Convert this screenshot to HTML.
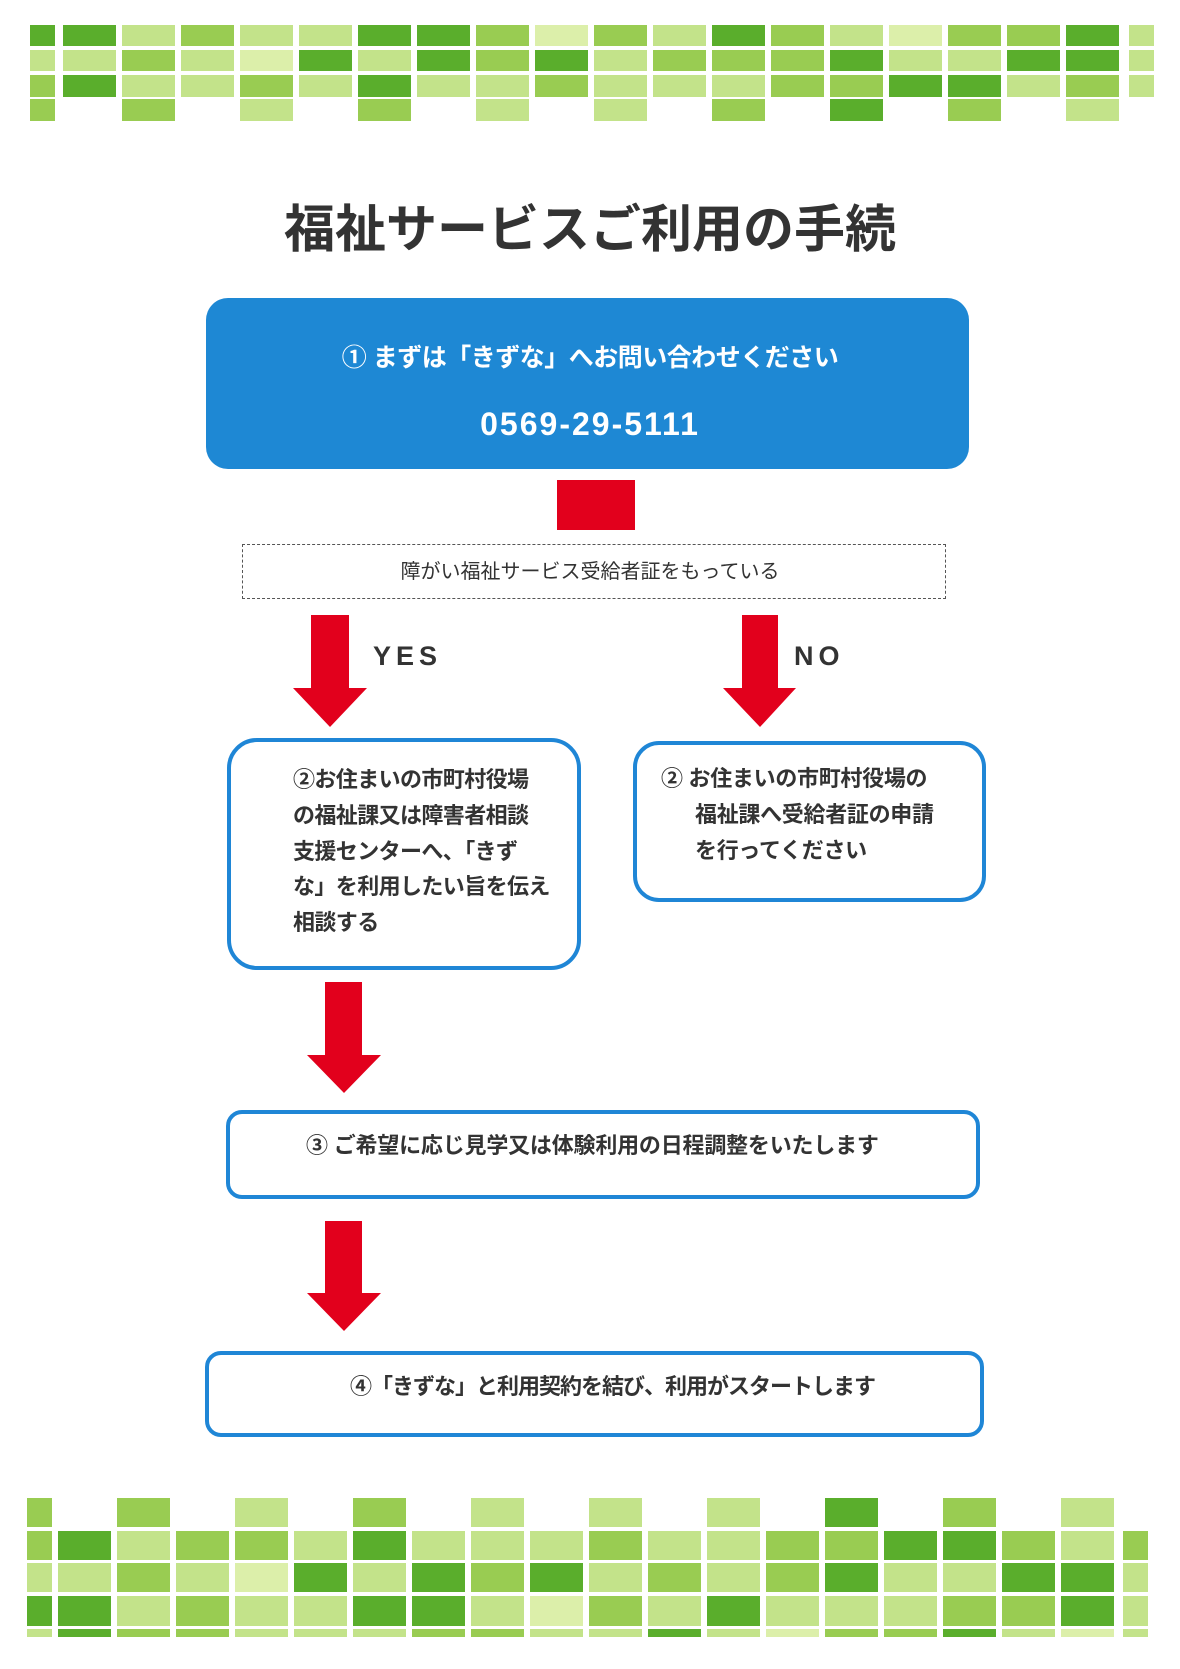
<!DOCTYPE html>
<html><head><meta charset="utf-8">
<style>
body{margin:0;width:1180px;height:1669px;background:#fff;position:relative;overflow:hidden;font-family:"Liberation Sans","Noto Sans CJK JP",sans-serif;}
.a{position:absolute;}
.t{position:absolute;white-space:nowrap;font-weight:bold;}
.box{position:absolute;border:4px solid #1f86d6;border-radius:26px;box-sizing:border-box;background:#fff;}
.tile{position:absolute;}
</style></head><body>
<div id="tiles"></div>

<div class="t" style="left:0;width:1180px;text-align:center;top:188px;font-size:51px;color:#333;">福祉サービスご利用の手続</div>

<div class="a" style="left:206px;top:298px;width:763px;height:171px;background:#1e88d4;border-radius:22px;"></div>
<div class="t" style="left:0;width:1180px;text-align:center;top:338px;font-size:25px;letter-spacing:-0.5px;color:#fff;">① まずは「きずな」へお問い合わせください</div>
<div class="t" style="left:0;width:1180px;text-align:center;top:406px;font-size:32px;color:#fff;letter-spacing:2px;">0569-29-5111</div>

<div class="a" style="left:557px;top:480px;width:78px;height:50px;background:#e2001c;"></div>

<div class="a" style="left:242px;top:544px;width:704px;height:55px;border:1.5px dashed #555;box-sizing:border-box;"></div>
<div class="a" style="left:0;width:1180px;text-align:center;top:555px;font-size:20px;color:#333;white-space:nowrap;">障がい福祉サービス受給者証をもっている</div>

<svg class="a" style="left:0;top:0" width="1180" height="1669">
<g fill="#e2001c">
<polygon points="311,615 349,615 349,688 367,688 330,727 293,688 311,688"/>
<polygon points="742,615 778,615 778,688 796,688 760,727 723,688 742,688"/>
<polygon points="325,982 362,982 362,1055 381,1055 344,1093 307,1055 325,1055"/>
<polygon points="325,1221 362,1221 362,1293 381,1293 344,1331 307,1293 325,1293"/>
</g></svg>
<div class="t" style="left:373px;top:641px;font-size:27px;color:#333;letter-spacing:5px;">YES</div>
<div class="t" style="left:794px;top:641px;font-size:27px;color:#333;letter-spacing:5px;">NO</div>

<div class="box" style="left:227px;top:738px;width:354px;height:232px;border-radius:30px;"></div>
<div class="t" style="left:293px;top:762px;font-size:22px;letter-spacing:-0.6px;line-height:35.8px;color:#333;">②お住まいの市町村役場<br>の福祉課又は障害者相談<br>支援センターへ、「きず<br>な」を利用したい旨を伝え<br>相談する</div>

<div class="box" style="left:633px;top:741px;width:353px;height:161px;border-radius:26px;"></div>
<div class="t" style="left:661px;top:761px;font-size:22px;letter-spacing:-0.3px;line-height:35.8px;color:#333;">②&nbsp;お住まいの市町村役場の<br><span style="padding-left:34px">福祉課へ受給者証の申請</span><br><span style="padding-left:34px">を行ってください</span></div>

<div class="box" style="left:226px;top:1110px;width:754px;height:89px;border-radius:16px;"></div>
<div class="t" style="left:306px;top:1128px;font-size:22px;letter-spacing:-0.2px;color:#333;">③&nbsp;ご希望に応じ見学又は体験利用の日程調整をいたします</div>

<div class="box" style="left:205px;top:1351px;width:779px;height:86px;border-radius:16px;"></div>
<div class="t" style="left:350px;top:1369px;font-size:22px;letter-spacing:-1px;color:#333;">④「きずな」と利用契約を結び、利用がスタートします</div>

<script>
(function(){
var C={D:"#5aae2c",M:"#99cc52",L:"#c3e38a",P:"#dcefaa"};
var h="";
function tile(x,y,w,hh,c){h+='<div class="tile" style="left:'+x+'px;top:'+y+'px;width:'+w+'px;height:'+hh+'px;background:'+C[c]+'"></div>';}
function colx(k,x0,first,last){ if(k==0) return [first,25]; if(k==19) return [last,25]; return [x0+(k-1)*59,53]; }
var topRows=["DDLMLLDDMPMLDMLPMMDL","LLMLPDLDMDLMMMDLLDDL","MDLLMLDLLMLLLMMDDLML"];
var ty=[[25,21],[50,21],[75,22]];
for(var r=0;r<3;r++)for(var k=0;k<20;k++){var c=colx(k,63,30,1129);tile(c[0],ty[r][0],c[1],ty[r][1],topRows[r][k]);}
var r4="MMLMLLMDML";
for(var i=0;i<10;i++){var k=i*2;var c=colx(k,63,30,1129);tile(c[0],99,c[1],22,r4[i]);}
var b0="MMLMLLLDML";
for(var i=0;i<10;i++){var k=i*2;var c=colx(k,58,27,1123);tile(c[0],1498,c[1],29,b0[i]);}
var bot=["MDLMMLDLLLMLLMMDDMLM","LLMLPDLDMDLMLMDLLDDL","DDLMLLDDLPMLDLLLMMDL","LDMMLLLMMLLDLPMMDLPL"];
var by=[[1531,29],[1563,29],[1596,30],[1629,8]];
for(var r=0;r<4;r++)for(var k=0;k<20;k++){var c=colx(k,58,27,1123);tile(c[0],by[r][0],c[1],by[r][1],bot[r][k]);}
document.getElementById("tiles").innerHTML=h;
})();
</script>
</body></html>
